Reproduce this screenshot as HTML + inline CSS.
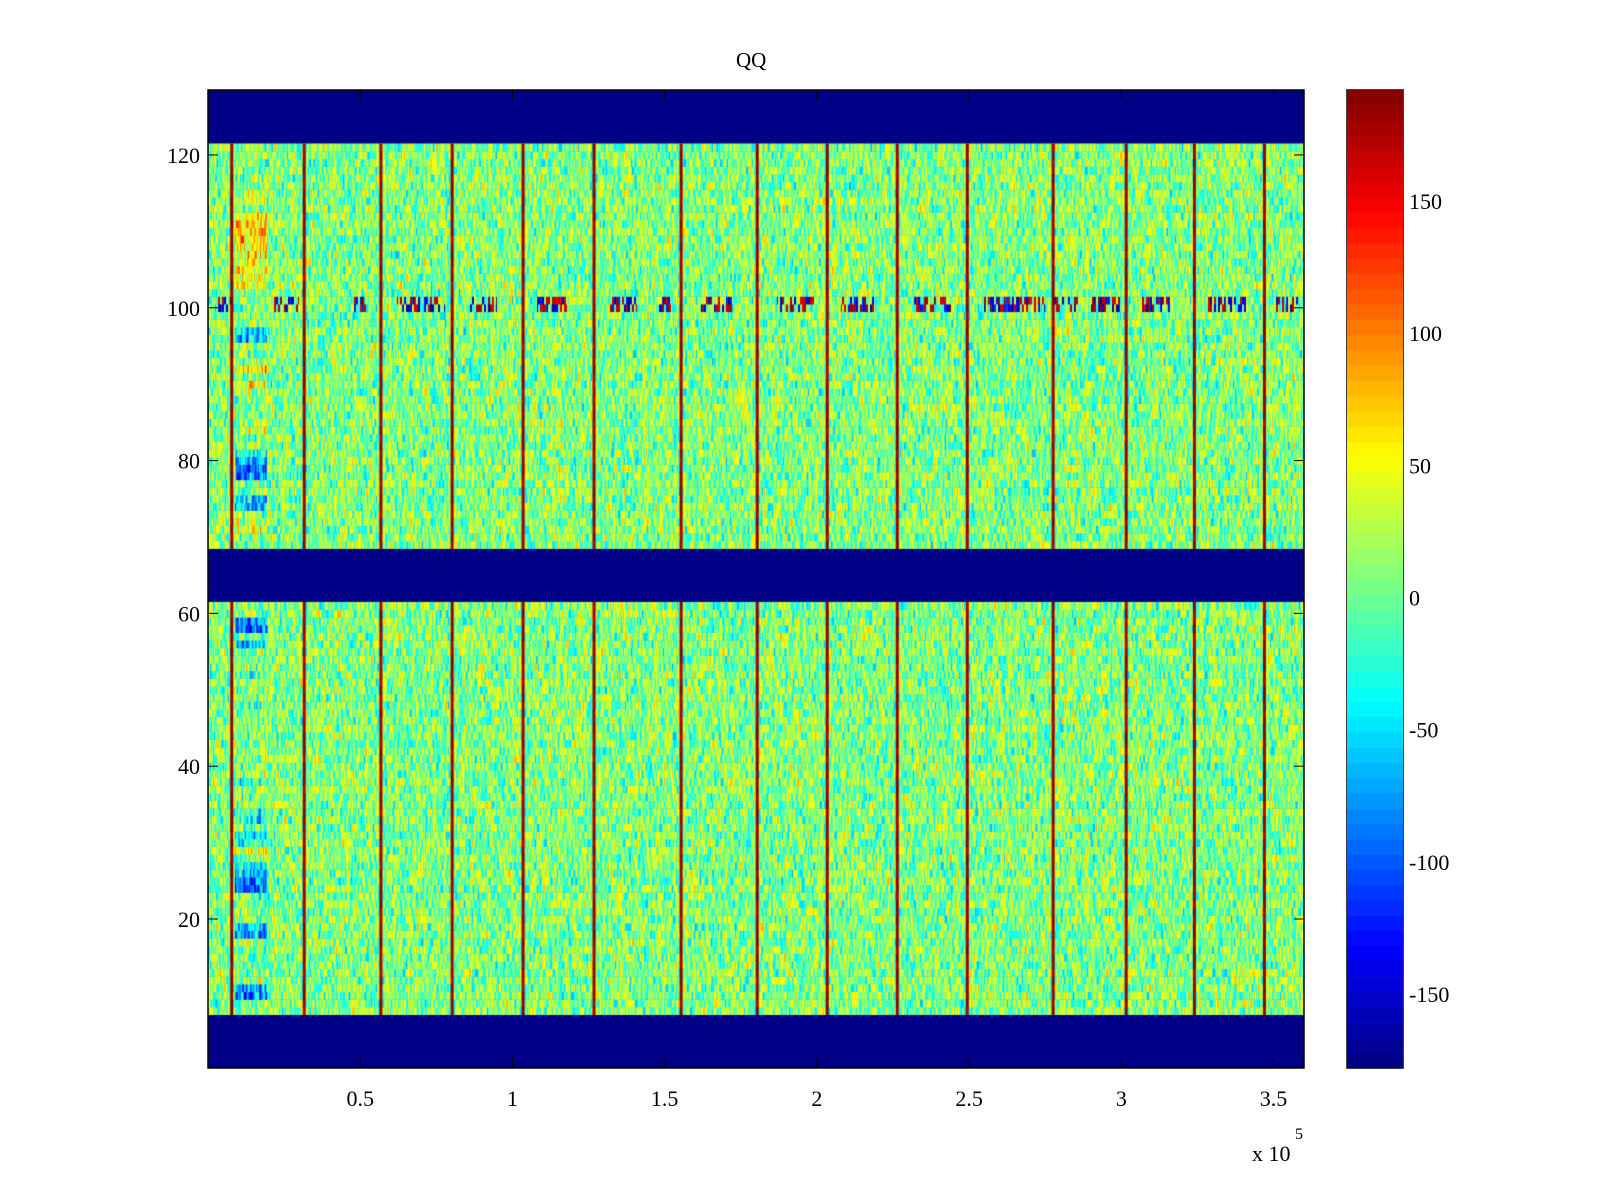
<!DOCTYPE html>
<html><head><meta charset="utf-8"><style>
body{margin:0;background:#fff;width:1600px;height:1200px;position:relative;overflow:hidden;font-family:"Liberation Serif",serif;}
.t{position:absolute;font-size:21px;color:#000;}
</style></head><body>
<div class="t" style="left:736px;top:48px;">QQ</div>
<canvas id="hm" width="1096" height="978" style="position:absolute;left:208px;top:90px;"></canvas>
<svg id="ov" width="1600" height="1200" style="position:absolute;left:0;top:0"></svg>
<canvas id="cb" width="56" height="978" style="position:absolute;left:1347px;top:90px;"></canvas>
<script>
const xMin=0, xMax=3.6e5, yMin=0.5, yMax=128.5, cMin=-178, cMax=192;
const xTicks=[0.5,1,1.5,2,2.5,3,3.5];
const yTicks=[20,40,60,80,100,120];
const cTicks=[-150,-100,-50,0,50,100,150];
const emptyRows=[[1,7],[62,68],[122,128]];
const lineX=[7800,31600,56800,80200,103500,126800,155400,180400,203400,226400,249400,277600,301600,324000,347000];
const leftRowOffsets={10:-80,11:-70,18:-80,19:-70,24:-90,25:-85,26:-70,27:-60,29:40,30:-40,31:-50,33:-40,34:-45,38:-30,48:-30,52:-30,58:-100,59:-90,56:-60,71:40,72:30,74:-70,75:-60,78:-80,79:-90,80:-60,81:-50,84:30,90:40,92:50,96:-70,97:-60,103:40,104:30,105:40,106:30,107:45,108:50,109:60,110:60,111:55,112:45,114:40,115:30};
const spikeClusters=[[3000,8000],[21000,30000],[48000,52000],[62000,78000],[86000,95000],[108000,118000],[132000,141000],[148000,152000],[162000,172000],[187000,199000],[208000,220000],[232000,244000],[255000,275000],[278000,286000],[290000,300000],[306000,316000],[328000,341000],[350000,358000]];
const ax={l:208,t:90,w:1096,h:978};
function X(v){return ax.l+(v-xMin)/(xMax-xMin)*ax.w;}
function Y(v){return ax.t+(yMax-v)/(yMax-yMin)*ax.h;}
function C(v){return (cMax-v)/(cMax-cMin)*ax.h;}
function jet(t){t=Math.max(0,Math.min(1,t));const f=a=>Math.round(255*Math.max(0,Math.min(1,1.5-Math.abs(4*t-a))));return 'rgb('+f(3)+','+f(2)+','+f(1)+')';}
function colorOf(v){const i=Math.floor((v-cMin)/(cMax-cMin)*64);return jet((Math.max(0,Math.min(63,i))+0.5)/64);}
function h(a,b){let n=(a*374761393+b*668265263)|0;n=(n^(n>>>13))*1274126177|0;return ((n^(n>>>16))>>>0)/4294967296;}
const ctx=document.getElementById('hm').getContext('2d');
ctx.fillStyle=colorOf(cMin);ctx.fillRect(0,0,ax.w,ax.h);
const colW=1, nCols=ax.w/colW;
for(let r=1;r<=128;r++){
  if(emptyRows.some(e=>r>=e[0]&&r<=e[1]))continue;
  const y0=Y(r+0.5)-ax.t, y1=Y(r-0.5)-ax.t;
  for(let c=0;c<nCols;c++){
    const xv=xMin+(c+0.5)/nCols*(xMax-xMin);
    let v=8+(h(r,c>>1)+h((c+1)>>1,r+999)-1)*75;
    if(xv>9000&&xv<19500&&leftRowOffsets[r]!==undefined)v+=leftRowOffsets[r];
    if((r===100||r===101)&&spikeClusters.some(s=>xv>=s[0]&&xv<=s[1])&&h(c>>1,r*7)>0.45)v=h(r*3,c>>1)>0.5?150+h(c,5)*40:-170+h(c,6)*60;
    ctx.fillStyle=colorOf(v);ctx.fillRect(c*colW,y0,colW,y1-y0+0.5);
  }
}
for(const lx of lineX){
  const px=X(lx)-ax.l;
  for(let r=1;r<=128;r++){
    if(emptyRows.some(e=>r>=e[0]&&r<=e[1]))continue;
    const y0=Y(r+0.5)-ax.t,y1=Y(r-0.5)-ax.t;
    ctx.fillStyle=colorOf(172+h(r,Math.round(lx))*20);ctx.fillRect(px-1.5,y0,3,y1-y0+0.5);
  }
}
const cb=document.getElementById('cb').getContext('2d');
for(let i=0;i<64;i++){const v0=cMin+i*(cMax-cMin)/64,v1=cMin+(i+1)*(cMax-cMin)/64;cb.fillStyle=jet((i+0.5)/64);cb.fillRect(0,C(v1),56,C(v0)-C(v1)+0.6);}
const ov=document.getElementById('ov');const NS='http://www.w3.org/2000/svg';
function el(tag,attrs,txt){const e=document.createElementNS(NS,tag);for(const k in attrs)e.setAttribute(k,attrs[k]);if(txt!==undefined)e.textContent=txt;ov.appendChild(e);return e;}
const frame=el('rect',{x:ax.l,y:ax.t,width:ax.w,height:ax.h,fill:'none',stroke:'#000','stroke-width':1.5});


const cbf=el('rect',{x:1347,y:ax.t,width:56,height:ax.h,fill:'none',stroke:'#000','stroke-width':1.5});


for(const t of xTicks){const x=X(t*1e5);
  el('line',{x1:x,y1:ax.t+ax.h,x2:x,y2:ax.t+ax.h-10,stroke:'#000'});el('line',{x1:x,y1:ax.t,x2:x,y2:ax.t+10,stroke:'#000'});
  const tx=el('text',{x:x,y:1106,'text-anchor':'middle','font-size':22,'font-family':'Liberation Serif, serif'},String(t));
  
  }
for(const t of yTicks){const y=Y(t);
  el('line',{x1:ax.l,y1:y,x2:ax.l+10,y2:y,stroke:'#000'});el('line',{x1:ax.l+ax.w,y1:y,x2:ax.l+ax.w-10,y2:y,stroke:'#000'});
  const tx=el('text',{x:200,y:y+8,'text-anchor':'end','font-size':22,'font-family':'Liberation Serif, serif'},String(t));
  
  }
for(const t of cTicks){const y=ax.t+C(t);
  el('line',{x1:1347,y1:y,x2:1355,y2:y,stroke:'#000'});el('line',{x1:1403,y1:y,x2:1395,y2:y,stroke:'#000'});
  const tx=el('text',{x:1409,y:y+8,'font-size':22,'font-family':'Liberation Serif, serif'},String(t));
  
  }
const ex=el('text',{x:1252,y:1161,'font-size':22,'font-family':'Liberation Serif, serif'},'x 10');


const e5=el('text',{x:1295,y:1139,'font-size':16,'font-family':'Liberation Serif, serif'},'5');


</script>
</body></html>
